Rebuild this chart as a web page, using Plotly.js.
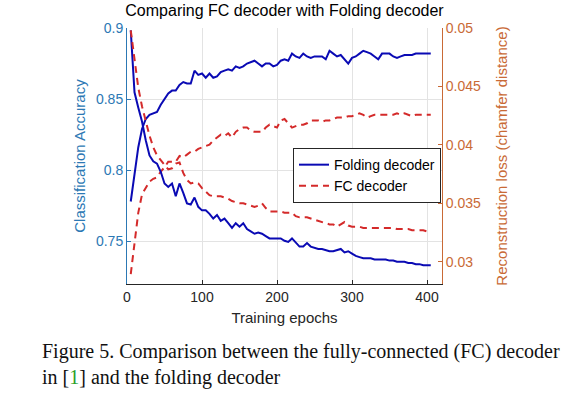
<!DOCTYPE html>
<html>
<head>
<meta charset="utf-8">
<script src="https://cdn.plot.ly/plotly-3.0.1.min.js"></script>
<style>html,body{margin:0;padding:0;background:#fff;}#chart{width:584px;height:396px;}</style>
</head>
<body>
<div id="chart"></div>
<script>
const epochs = [5,10,15,20,25,30,35,40,45,50,55,60,65,70,75,80,85,90,95,100,105,110,115,120,125,130,135,140,145,150,155,160,165,170,175,180,185,190,195,200,205,210,215,220,225,230,235,240,245,250,255,260,265,270,275,280,285,290,295,300,305,310,315,320,325,330,335,340,345,350,355,360,365,370,375,380,385,390,395,400,405];

const foldingAccuracy = [0.778,0.799,0.816,0.829,0.836,0.839,0.840,0.841,0.846,0.850,0.854,0.856,0.856,0.860,0.862,0.861,0.861,0.870,0.867,0.868,0.865,0.868,0.865,0.866,0.869,0.870,0.871,0.870,0.873,0.872,0.873,0.875,0.876,0.877,0.875,0.873,0.875,0.875,0.873,0.874,0.877,0.878,0.877,0.882,0.880,0.879,0.882,0.880,0.879,0.880,0.880,0.880,0.878,0.884,0.882,0.880,0.881,0.878,0.875,0.879,0.880,0.882,0.884,0.883,0.882,0.880,0.878,0.882,0.882,0.882,0.880,0.879,0.880,0.881,0.881,0.881,0.882,0.882,0.882,0.882,0.882];

const fcAccuracy = [0.727,0.748,0.770,0.783,0.788,0.792,0.794,0.795,0.799,0.802,0.806,0.806,0.806,0.810,0.809,0.811,0.813,0.813,0.815,0.816,0.817,0.818,0.821,0.823,0.825,0.824,0.826,0.823,0.827,0.829,0.830,0.830,0.828,0.827,0.827,0.827,0.830,0.832,0.831,0.830,0.835,0.836,0.833,0.830,0.831,0.832,0.832,0.833,0.835,0.835,0.835,0.834,0.835,0.835,0.836,0.837,0.837,0.837,0.838,0.838,0.839,0.840,0.839,0.837,0.838,0.839,0.839,0.839,0.839,0.839,0.839,0.840,0.839,0.840,0.839,0.838,0.839,0.839,0.839,0.839,0.839];

const foldingLoss = [0.0498,0.0445,0.0432,0.0420,0.0404,0.0391,0.0386,0.0384,0.0377,0.0367,0.0364,0.0367,0.0356,0.0367,0.0359,0.0350,0.0349,0.0355,0.0347,0.0344,0.0344,0.0341,0.0337,0.0340,0.0335,0.0337,0.0333,0.0329,0.0333,0.0330,0.0333,0.0328,0.0326,0.0324,0.0325,0.0324,0.0322,0.0320,0.0320,0.0320,0.0320,0.0318,0.0317,0.0320,0.0316,0.0313,0.0313,0.0316,0.0313,0.0312,0.0311,0.0311,0.0310,0.0309,0.0309,0.0310,0.0311,0.0308,0.0309,0.0307,0.0305,0.0304,0.0303,0.0303,0.0303,0.0302,0.0302,0.0302,0.0302,0.0301,0.0301,0.0300,0.0300,0.0300,0.0299,0.0299,0.0298,0.0298,0.0297,0.0297,0.0297];

const fcLoss = [0.0498,0.0473,0.0449,0.0433,0.0420,0.0408,0.0398,0.0391,0.0387,0.0383,0.0379,0.0380,0.0384,0.0385,0.0376,0.0370,0.0367,0.0368,0.0367,0.0363,0.0360,0.0357,0.0356,0.0356,0.0356,0.0355,0.0354,0.0352,0.0351,0.0350,0.0350,0.0349,0.0348,0.0347,0.0348,0.0350,0.0346,0.0343,0.0343,0.0343,0.0343,0.0342,0.0342,0.0342,0.0339,0.0338,0.0338,0.0338,0.0337,0.0336,0.0335,0.0334,0.0333,0.0332,0.0332,0.0330,0.0332,0.0334,0.0331,0.0330,0.0330,0.0330,0.0329,0.0329,0.0329,0.0329,0.0329,0.0329,0.0329,0.0329,0.0329,0.0328,0.0328,0.0328,0.0328,0.0327,0.0327,0.0327,0.0327,0.0326,0.0326];

const seriesNames = ['Folding decoder', 'FC decoder'];
const leftTicks = [0.75, 0.8, 0.85, 0.9];
const rightTicks = [0.03, 0.035, 0.04, 0.045, 0.05];
const xTicks = [0, 100, 200, 300, 400];

const BLUE = '#0a0ab4';
const RED = '#d42a2a';
const LEFTC = '#2c78b4';
const RIGHTC = '#c96a36';
const FONT = 'Liberation Sans, Arial, Helvetica, sans-serif';
const SERIF = 'Liberation Serif, Times New Roman, serif';

const traces = [
  {x: epochs, y: foldingAccuracy, type: 'scatter', mode: 'lines', name: seriesNames[0],
   line: {color: BLUE, width: 2}, yaxis: 'y', showlegend: true},
  {x: epochs, y: fcAccuracy, type: 'scatter', mode: 'lines', name: seriesNames[1],
   line: {color: RED, width: 2, dash: '7px,5px'}, yaxis: 'y', showlegend: true},
  {x: epochs, y: foldingLoss, type: 'scatter', mode: 'lines', name: seriesNames[0],
   line: {color: BLUE, width: 2}, yaxis: 'y2', showlegend: false},
  {x: epochs, y: fcLoss, type: 'scatter', mode: 'lines', name: seriesNames[1],
   line: {color: RED, width: 2, dash: '7px,5px'}, yaxis: 'y2', showlegend: false}
];

const layout = {
  width: 584, height: 396,
  margin: {l: 127, r: 142, t: 28, b: 112},
  paper_bgcolor: '#fff', plot_bgcolor: '#fff',
  font: {family: FONT, size: 14, color: '#262626'},
  showlegend: true,
  title: {text: 'Comparing FC decoder with Folding decoder', font: {size: 16, color: '#000'},
          x: 0.5, xref: 'paper', xanchor: 'center', y: 1, yref: 'container', yanchor: 'top', pad: {t: 5}},
  xaxis: {range: [0, 420], tickvals: xTicks, ticks: 'inside', ticklen: 4, tickcolor: '#262626',
          showline: true, linecolor: '#262626', linewidth: 1, mirror: false,
          showgrid: true, gridcolor: '#e3e3e3', zeroline: false,
          tickfont: {size: 14, color: '#262626'},
          title: {text: 'Training epochs', font: {size: 15, color: '#262626'}, standoff: 8}},
  yaxis: {range: [0.72, 0.9], tickvals: leftTicks, ticktext: ['0.75','0.8','0.85','0.9'],
          ticks: 'inside', ticklen: 4, tickcolor: LEFTC,
          showline: true, linecolor: LEFTC, linewidth: 1, showgrid: true, gridcolor: '#e3e3e3', zeroline: false,
          tickfont: {size: 14, color: LEFTC},
          title: {text: 'Classification Accuracy', font: {size: 15, color: LEFTC}, standoff: 6}},
  yaxis2: {range: [0.0281, 0.05], tickvals: rightTicks, ticktext: ['0.03','0.035','0.04','0.045','0.05'],
           overlaying: 'y', side: 'right', anchor: 'x',
           ticks: 'inside', ticklen: 4, tickcolor: RIGHTC,
           showline: true, linecolor: RIGHTC, linewidth: 1, showgrid: false, zeroline: false,
           tickfont: {size: 14, color: RIGHTC},
           title: {text: 'Reconstruction loss (chamfer distance)', font: {size: 15, color: RIGHTC}, standoff: 16}},
  legend: {x: 0.527, y: 0.531, xanchor: 'left', yanchor: 'top', bgcolor: '#fff',
           bordercolor: '#262626', borderwidth: 1, font: {size: 14, color: '#000'},
           tracegroupgap: 0, itemwidth: 30},
  annotations: [
    {xref: 'paper', yref: 'paper', x: -0.276, y: -0.2656, xanchor: 'left', yanchor: 'middle', showarrow: false,
     text: 'Figure 5. Comparison between the fully-connected (FC) decoder',
     font: {family: SERIF, size: 20, color: '#111'}},
    {xref: 'paper', yref: 'paper', x: -0.276, y: -0.3633, xanchor: 'left', yanchor: 'middle', showarrow: false,
     text: 'in [<span style="color:#2aa02a">1</span>] and the folding decoder',
     font: {family: SERIF, size: 20, color: '#111'}}
  ]
};

Plotly.newPlot('chart', traces, layout, {staticPlot: true, displayModeBar: false});
</script>
</body>
</html>
